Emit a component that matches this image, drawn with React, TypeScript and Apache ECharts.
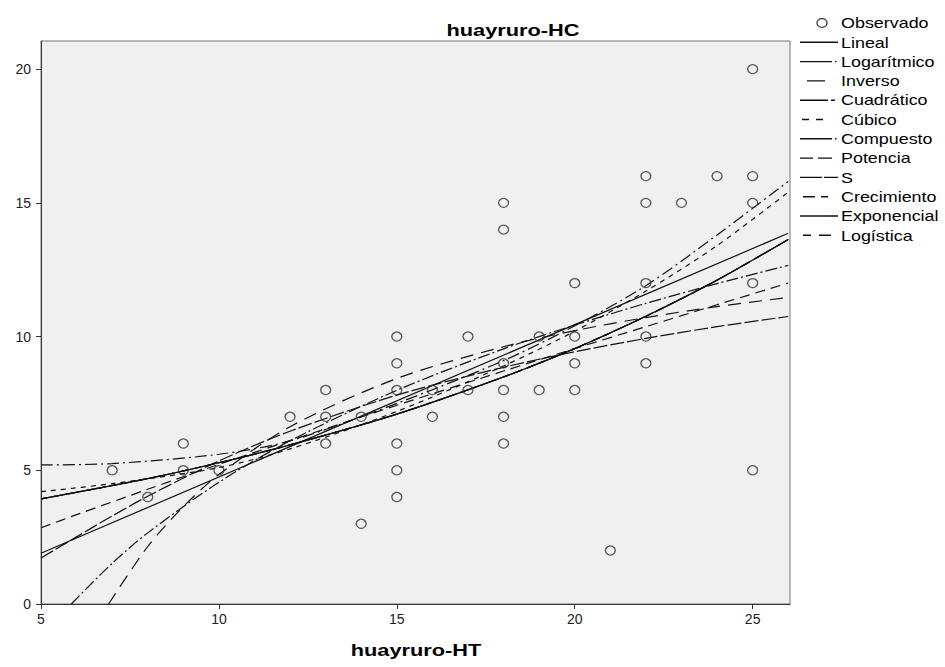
import React, { useEffect, useRef } from "react";
import * as echarts from "echarts";

// Observed pairs (huayruro-HT, huayruro-HC)
const observedHT = [7, 8, 9, 9, 10, 12, 13, 13, 13, 14, 14, 15, 15, 15, 15, 15, 15, 16, 16, 17, 17, 18, 18, 18, 18, 18, 18, 19, 19, 20, 20, 20, 20, 21, 22, 22, 22, 22, 22, 23, 24, 25, 25, 25, 25, 25];
const observedHC = [5, 4, 6, 5, 5, 7, 8, 7, 6, 7, 3, 10, 9, 8, 6, 5, 4, 8, 7, 10, 8, 15, 14, 9, 8, 7, 6, 10, 8, 12, 10, 9, 8, 2, 16, 15, 12, 10, 9, 15, 16, 20, 16, 15, 12, 5];

// Fitted curves, sampled along HT
const linealX = [5, 26];
const linealY = [1.9, 13.86];

const logaritmicoX = [5.85, 7, 8, 10, 12, 15, 18, 20, 22, 24, 26];
const logaritmicoY = [0, 1.52, 2.66, 4.55, 6.1, 7.99, 9.54, 10.43, 11.24, 11.98, 12.66];

const inversoX = [6.9, 8, 9, 10, 12, 15, 18, 20, 22, 24, 26];
const inversoY = [0, 2.15, 3.64, 4.84, 6.63, 8.43, 9.62, 10.22, 10.71, 11.12, 11.46];

const cuadraticoX = [5, 7, 10, 12, 15, 18, 20, 22, 24, 26];
const cuadraticoY = [5.2, 5.25, 5.6, 6.1, 7.5, 9.1, 10.4, 11.9, 13.8, 15.8];

const cubicoX = [5, 7, 10, 12, 15, 18, 20, 22, 24, 26];
const cubicoY = [4.2, 4.5, 5.1, 5.8, 7.2, 8.9, 10.2, 11.7, 13.4, 15.4];

const compuestoX = [5, 8, 10, 12, 15, 18, 20, 22, 24, 26];
const compuestoY = [3.93, 4.69, 5.28, 5.95, 7.1, 8.49, 9.55, 10.76, 12.11, 13.63];

const potenciaX = [5, 6, 8, 10, 12, 15, 18, 20, 22, 24, 26];
const potenciaY = [2.85, 3.34, 4.29, 5.22, 6.11, 7.43, 8.71, 9.55, 10.37, 11.19, 12.0];

const sX = [5, 6, 7, 8, 10, 12, 15, 18, 20, 22, 24, 26];
const sY = [1.72, 2.51, 3.29, 4.03, 5.35, 6.46, 7.81, 8.85, 9.43, 9.93, 10.37, 10.75];

// Growth, exponential and logistic coincide with the compound curve
const crecimientoX = compuestoX;
const crecimientoY = compuestoY;
const exponencialX = compuestoX;
const exponencialY = compuestoY;
const logisticaX = compuestoX;
const logisticaY = compuestoY;

const xTicks = [5, 10, 15, 20, 25];
const yTicks = [0, 5, 10, 15, 20];

const FONT = "'Liberation Sans', Arial, sans-serif";
const STRETCH = 1.28; // texts are drawn horizontally widened

const pairs = (xs: number[], ys: number[]) => xs.map((x, i) => [x, ys[i]]);

type Fit = { name: string; xs: number[]; ys: number[]; dash: number[] | null; keyDash: number[] | null };

const fits: Fit[] = [
  { name: "Lineal", xs: linealX, ys: linealY, dash: null, keyDash: null },
  { name: "Logarítmico", xs: logaritmicoX, ys: logaritmicoY, dash: [12, 3, 2, 3], keyDash: [32, 3, 1.5, 6] },
  { name: "Inverso", xs: inversoX, ys: inversoY, dash: [13, 8], keyDash: [0, 7, 18, 20] },
  { name: "Cuadrático", xs: cuadraticoX, ys: cuadraticoY, dash: [12, 4, 2, 4], keyDash: [28, 3, 4, 6] },
  { name: "Cúbico", xs: cubicoX, ys: cubicoY, dash: [5, 5], keyDash: [0, 2, 7, 7, 7, 20] },
  { name: "Compuesto", xs: compuestoX, ys: compuestoY, dash: [16, 3, 1, 3], keyDash: [32, 3, 1.5, 6] },
  { name: "Potencia", xs: potenciaX, ys: potenciaY, dash: [10, 6], keyDash: [13, 5, 14, 10] },
  { name: "S", xs: sX, ys: sY, dash: [14, 3], keyDash: [22, 2, 14, 10] },
  { name: "Crecimiento", xs: crecimientoX, ys: crecimientoY, dash: [9, 5], keyDash: [0, 3, 12, 6, 7, 20] },
  { name: "Exponencial", xs: exponencialX, ys: exponencialY, dash: null, keyDash: null },
  { name: "Logística", xs: logisticaX, ys: logisticaY, dash: [6, 6], keyDash: [0, 3, 8, 8, 12, 20] },
];

const KEY_X = 800;
const KEY_W = 38;
const KEY_TOP = 23;
const KEY_STEP = 19.3;

export default function App() {
  const ref = useRef<HTMLDivElement>(null);

  useEffect(() => {
    if (!ref.current) return;
    const chart = echarts.init(ref.current, undefined, { renderer: "svg" });

    const lineSeries = fits.map((f) => ({
      name: f.name,
      type: "line",
      data: pairs(f.xs, f.ys),
      smooth: 0.3,
      symbol: "none",
      clip: true,
      lineStyle: { color: "#111", width: 1.2, type: f.dash ?? "solid" },
      itemStyle: { color: "#111" },
      z: 3,
    }));

    // Key on the right: symbol / line sample plus stretched label
    const keyLabel = (text: string, y: number) => ({
      type: "text",
      x: KEY_X + KEY_W + 3,
      y,
      scaleX: STRETCH,
      style: { text, font: `14px ${FONT}`, fill: "#000", textVerticalAlign: "middle" },
    });
    const keyItems: any[] = [
      {
        type: "ellipse",
        shape: { cx: 822, cy: KEY_TOP, rx: 5, ry: 4.3 },
        style: { fill: "none", stroke: "#333", lineWidth: 1.3 },
      },
      keyLabel("Observado", KEY_TOP),
    ];
    fits.forEach((f, i) => {
      const y = KEY_TOP + (i + 1) * KEY_STEP;
      keyItems.push({
        type: "line",
        shape: { x1: KEY_X, y1: y, x2: KEY_X + KEY_W, y2: y },
        style: { stroke: "#111", lineWidth: 1.4, lineDash: f.keyDash ?? undefined },
      });
      keyItems.push(keyLabel(f.name, y));
    });

    chart.setOption({
      animation: false,
      backgroundColor: "#ffffff",
      textStyle: { fontFamily: FONT },
      grid: {
        left: 41,
        right: 155,
        top: 41,
        bottom: 63,
        show: true,
        backgroundColor: "#f0f0f0",
        borderColor: "#777",
        borderWidth: 1,
      },
      graphic: [
        {
          type: "text",
          x: 513,
          y: 30,
          scaleX: STRETCH,
          style: {
            text: "huayruro-HC",
            font: `bold 17px ${FONT}`,
            fill: "#000",
            textAlign: "center",
            textVerticalAlign: "middle",
          },
        },
        {
          type: "text",
          x: 416,
          y: 650,
          scaleX: STRETCH,
          style: {
            text: "huayruro-HT",
            font: `bold 17px ${FONT}`,
            fill: "#000",
            textAlign: "center",
            textVerticalAlign: "middle",
          },
        },
        ...keyItems,
      ],
      xAxis: {
        type: "value",
        min: 5,
        max: 26.05,
        interval: 5,
        axisLine: { show: true, onZero: false, lineStyle: { color: "#333", width: 1 } },
        axisTick: { show: true, length: 5, lineStyle: { color: "#333" }, customValues: xTicks },
        axisLabel: { fontSize: 14, color: "#222", margin: 8, customValues: xTicks },
        splitLine: { show: false },
      },
      yAxis: {
        type: "value",
        min: 0,
        max: 21.05,
        interval: 5,
        axisLine: { show: true, onZero: false, lineStyle: { color: "#333", width: 1 } },
        axisTick: { show: true, length: 5, lineStyle: { color: "#333" }, customValues: yTicks },
        axisLabel: { fontSize: 14, color: "#222", margin: 10, customValues: yTicks },
        splitLine: { show: false },
      },
      series: [
        {
          name: "Observado",
          type: "scatter",
          data: pairs(observedHT, observedHC),
          symbol: "circle",
          symbolSize: [10, 9],
          itemStyle: { color: "rgba(0,0,0,0)", borderColor: "#333", borderWidth: 1.3 },
          z: 4,
        },
        ...lineSeries,
      ],
    });

    return () => chart.dispose();
  }, []);

  return (
    <div
      ref={ref}
      style={{ position: "absolute", left: 0, top: 0, width: 945, height: 667 }}
    />
  );
}
